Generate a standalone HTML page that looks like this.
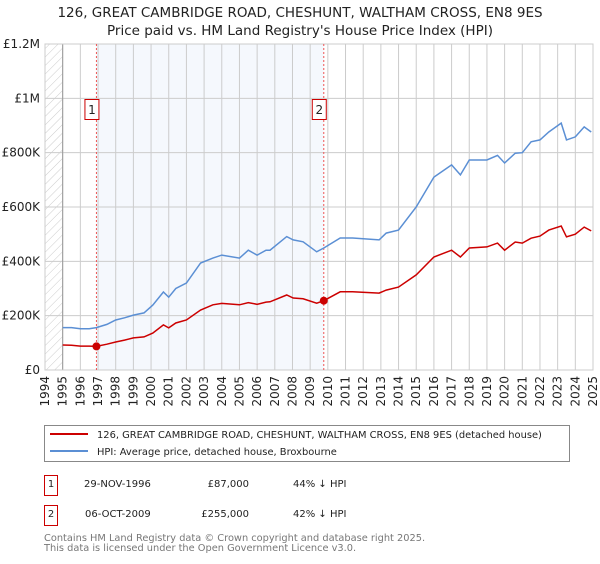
<!DOCTYPE html>
<html><head><meta charset="utf-8"><style>
body{margin:0;background:#fff;font-family:"DejaVu Sans","Liberation Sans",sans-serif;}
svg text{font-family:"DejaVu Sans","Liberation Sans",sans-serif;}
</style></head><body>
<svg id="chart" width="600" height="560" xmlns="http://www.w3.org/2000/svg">
<defs><pattern id="hatch" width="6" height="6" patternUnits="userSpaceOnUse" patternTransform="rotate(45)"><line x1="0" y1="0" x2="0" y2="6" stroke="#ccc" stroke-width="1"/></pattern></defs>
<text x="300" y="17" text-anchor="middle" font-size="13.5" fill="#222">126, GREAT CAMBRIDGE ROAD, CHESHUNT, WALTHAM CROSS, EN8 9ES</text>
<text x="300" y="35" text-anchor="middle" font-size="13.5" fill="#222">Price paid vs. HM Land Registry's House Price Index (HPI)</text>
<g id="plot"></g>
<g>
<rect x="44.5" y="425.5" width="525" height="36" fill="#fff" stroke="#888"/>
<line x1="50" y1="434" x2="88" y2="434" stroke="#cc0000" stroke-width="2"/>
<text x="97" y="438" font-size="9.9" fill="#222">126, GREAT CAMBRIDGE ROAD, CHESHUNT, WALTHAM CROSS, EN8 9ES (detached house)</text>
<line x1="50" y1="451" x2="88" y2="451" stroke="#5b8fd4" stroke-width="2"/>
<text x="97" y="455" font-size="9.9" fill="#222">HPI: Average price, detached house, Broxbourne</text>
</g>
<g font-size="10" fill="#222">
<rect x="44.5" y="475.5" width="13" height="20" fill="#fff" stroke="#cc0000"/>
<text x="51" y="487" text-anchor="middle">1</text>
<text x="84" y="487">29-NOV-1996</text><text x="249" y="487" text-anchor="end">£87,000</text><text x="293" y="487">44% ↓ HPI</text>
<rect x="44.5" y="505.5" width="13" height="20" fill="#fff" stroke="#cc0000"/>
<text x="51" y="517" text-anchor="middle">2</text>
<text x="85" y="517">06-OCT-2009</text><text x="249" y="517" text-anchor="end">£255,000</text><text x="293" y="517">42% ↓ HPI</text>
</g>
<text x="44" y="541" font-size="9.8" fill="#777">Contains HM Land Registry data © Crown copyright and database right 2025.</text>
<text x="44" y="551" font-size="9.8" fill="#777">This data is licensed under the Open Government Licence v3.0.</text>
</svg>
<script>
const years=[1995,1995.5,1996,1996.5,1996.91,1997.5,1998,1998.5,1999,1999.6,2000.1,2000.7,2001,2001.4,2002,2002.8,2003.5,2004,2005,2005.5,2006,2006.5,2006.73,2007.67,2008.04,2008.6,2009.37,2009.77,2010.7,2011.4,2012.9,2013.3,2014,2015,2016,2017,2017.5,2018,2019,2019.6,2020,2020.6,2021,2021.5,2022,2022.5,2023.2,2023.5,2024,2024.5,2024.9];
const hpiValues=[156,156,152,152,156,168,184,192,202,210,239,287,268,300,320,394,412,423,412,441,423,441,441,491,479,472,435,449,486,486,479,504,515,600,710,755,718,773,773,790,762,798,800,840,847,876,909,847,858,895,876];
const propValues=[92,91,88,88,87,95,103,110,118,122,136,166,155,173,184,221,240,245,240,248,242,250,251,276,265,262,246,255,288,288,283,294,305,350,416,441,416,449,453,467,441,471,467,485,493,515,530,490,500,526,512];
const saleYears=[1996.91,2009.77];
const saleValues=[87,255];
const saleLabels=["1","2"];
const yTicks=[0,200,400,600,800,1000,1200];
const yTickLabels=["£0","£200K","£400K","£600K","£800K","£1M","£1.2M"];
const xTicks=[1994,1995,1996,1997,1998,1999,2000,2001,2002,2003,2004,2005,2006,2007,2008,2009,2010,2011,2012,2013,2014,2015,2016,2017,2018,2019,2020,2021,2022,2023,2024,2025];
const X0=45,X1=593,Y0=370,Y1=44;
const xs=y=>X0+(y-1994)/31*(X1-X0);
const ys=v=>Y0-v/1200*(Y0-Y1);
const NS="http://www.w3.org/2000/svg";
const g=document.getElementById('plot');
function mk(tag,attrs,parent){const e=document.createElementNS(NS,tag);for(const k in attrs)e.setAttribute(k,attrs[k]);(parent||g).appendChild(e);return e;}
let e;
e=mk('rect',{x:xs(saleYears[0]),y:Y1,width:xs(saleYears[1])-xs(saleYears[0]),height:Y0-Y1,fill:'#eef3fc',opacity:0.6});


e=mk('rect',{x:X0,y:Y1,width:xs(1995)-X0,height:Y0-Y1,fill:'url(#hatch)'});


xTicks.forEach(t=>{mk('line',{x1:xs(t),y1:Y1,x2:xs(t),y2:Y0,stroke:'#ccc','stroke-width':1});
 e=mk('text',{x:0,y:0,'font-size':12,fill:'#222','text-anchor':'end',transform:`translate(${xs(t)+4},${Y0+6}) rotate(-90)`});e.textContent=t;
 
 });
yTicks.forEach((t,i)=>{mk('line',{x1:X0,y1:ys(t),x2:X1,y2:ys(t),stroke:'#ccc','stroke-width':1});
 e=mk('text',{x:40,y:ys(t)+4,'font-size':12,fill:'#222','text-anchor':'end'});e.textContent=yTickLabels[i];
 
 });
mk('line',{x1:xs(1995),y1:Y1,x2:xs(1995),y2:Y0,stroke:'#999'});
mk('rect',{x:X0,y:Y1,width:X1-X0,height:Y0-Y1,fill:'none',stroke:'#ccc'});
saleYears.forEach((s,i)=>{mk('line',{x1:xs(s),y1:Y1,x2:xs(s),y2:Y0,stroke:'#e55','stroke-width':1,'stroke-dasharray':'2,2'});
 e=mk('rect',{x:xs(s)-11.5,y:99.5,width:14,height:20,fill:'#fff',stroke:'#cc0000'});
 
 
 e=mk('text',{x:xs(s)-4.5,y:114,'font-size':12,fill:'#222','text-anchor':'middle'});e.textContent=saleLabels[i];});
const pts=a=>years.map((y,i)=>xs(y).toFixed(1)+','+ys(a[i]).toFixed(1)).join(' ');
e=mk('polyline',{points:pts(hpiValues),fill:'none',stroke:'#5b8fd4','stroke-width':1.5});


e=mk('polyline',{points:pts(propValues),fill:'none',stroke:'#cc0000','stroke-width':1.5});


saleYears.forEach((s,i)=>{e=mk('circle',{cx:xs(s),cy:ys(saleValues[i]),r:4,fill:'#cc0000'});
 
 });
</script>
</body></html>
